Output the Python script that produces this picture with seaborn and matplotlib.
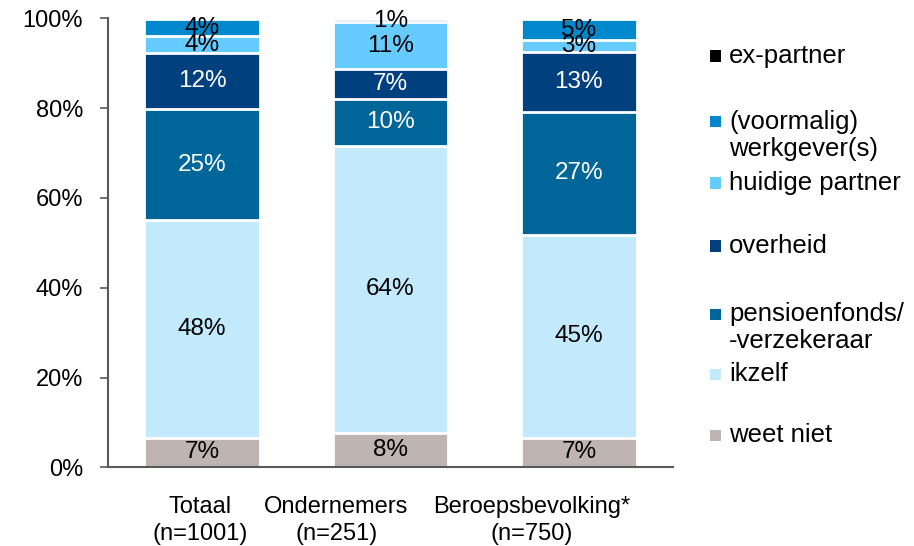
import matplotlib
matplotlib.use("Agg")
import matplotlib.pyplot as plt
import seaborn as sns
import numpy as np
from matplotlib.patches import Rectangle
from matplotlib.transforms import ScaledTranslation

# Categories (x axis) and series, stacked bottom to top
groups = ["Totaal\n(n=1001)", "Ondernemers\n(n=251)", "Beroepsbevolking*\n(n=750)"]
series = ["weet niet", "ikzelf", "pensioenfonds/\n-verzekeraar", "overheid",
          "huidige partner", "(voormalig)\nwerkgever(s)", "ex-partner"]

# Shares in percent per group
weet_niet = [6.6, 7.6, 6.6]
ikzelf = [48.4, 64.0, 45.2]
pensioen = [24.8, 10.4, 27.4]
overheid = [12.4, 6.6, 13.2]
huidige_partner = [3.8, 10.6, 2.8]
werkgever = [3.8, 0.6, 4.6]
ex_partner = [0.0, 0.0, 0.0]

y_ticks = [0, 20, 40, 60, 80, 100]

colors = ["#BEB5B2", "#C2E9FC", "#006699", "#00407F", "#66CCFF", "#0088CC", "#000000"]
label_colors = ["black", "black", "white", "white", "black", "black", "white"]

W, H = 914, 546
sns.set_theme(style="white")
plt.rcParams["font.family"] = ["Liberation Sans", "DejaVu Sans"]

fig = plt.figure(figsize=(W / 100, H / 100), dpi=100)
ax = fig.add_axes([108 / W, (H - 467.3) / H, (673 - 108) / W, (467.3 - 18.3) / H])

values = np.array([weet_niet, ikzelf, pensioen, overheid, huidige_partner, werkgever, ex_partner])
cum = np.cumsum(values, axis=0)

# Stacked bars: draw cumulative totals from the top series down so lower
# segments cover the upper ones, separated by white outlines
for i in reversed(range(len(series))):
    if np.all(values[i] == 0):
        continue
    sns.barplot(x=groups, y=cum[i], order=groups, color=colors[i], width=0.615,
                edgecolor="white", linewidth=2, saturation=1, errorbar=None, ax=ax)

# Value labels at segment centres
for i in range(len(series)):
    for j in range(len(groups)):
        v = values[i][j]
        if v <= 0:
            continue
        ax.text(j, cum[i][j] - v / 2, f"{int(v + 0.5)}%", ha="center", va="center",
                fontsize=17.5, color=label_colors[i])

ax.set_xlim(-0.5, 2.5)
ax.set_ylim(0, 100)
ax.set_yticks(y_ticks)
ax.set_yticklabels([f"{t}%" for t in y_ticks])
ax.set_xlabel("")
ax.set_ylabel("")
for side in ["top", "right"]:
    ax.spines[side].set_visible(False)
for side in ["left", "bottom"]:
    ax.spines[side].set_color("#595959")
    ax.spines[side].set_linewidth(1.5)
ax.tick_params(axis="y", left=True, length=6, width=1.2, color="#595959",
               labelsize=17, pad=12, labelcolor="black")
ax.tick_params(axis="x", bottom=False, labelsize=17, pad=15, labelcolor="black")

# Category labels sit a little left of the bar centres
shifts = [-2, -54, -47]
for lab, dx in zip(ax.get_xticklabels(), shifts):
    lab.set_transform(lab.get_transform() + ScaledTranslation(dx / 100, 0, fig.dpi_scale_trans))
    lab.set_linespacing(1.25)

# Legend, listed top series first
legend_rows = [56, 122, 183, 246, 314, 374, 435]
line_gap = 27
for k, idx in enumerate(reversed(range(len(series)))):
    yc = legend_rows[k]
    fig.patches.append(Rectangle((710 / W, (H - yc - 5.5) / H), 11 / W, 11 / H,
                                 transform=fig.transFigure, facecolor=colors[idx],
                                 edgecolor="none", zorder=5))
    for n, line in enumerate(series[idx].split("\n")):
        fig.text(729 / W, (H - yc - n * line_gap) / H, line, ha="left", va="center",
                 fontsize=18.5, color="black")

fig.savefig("out.png", dpi=100)
